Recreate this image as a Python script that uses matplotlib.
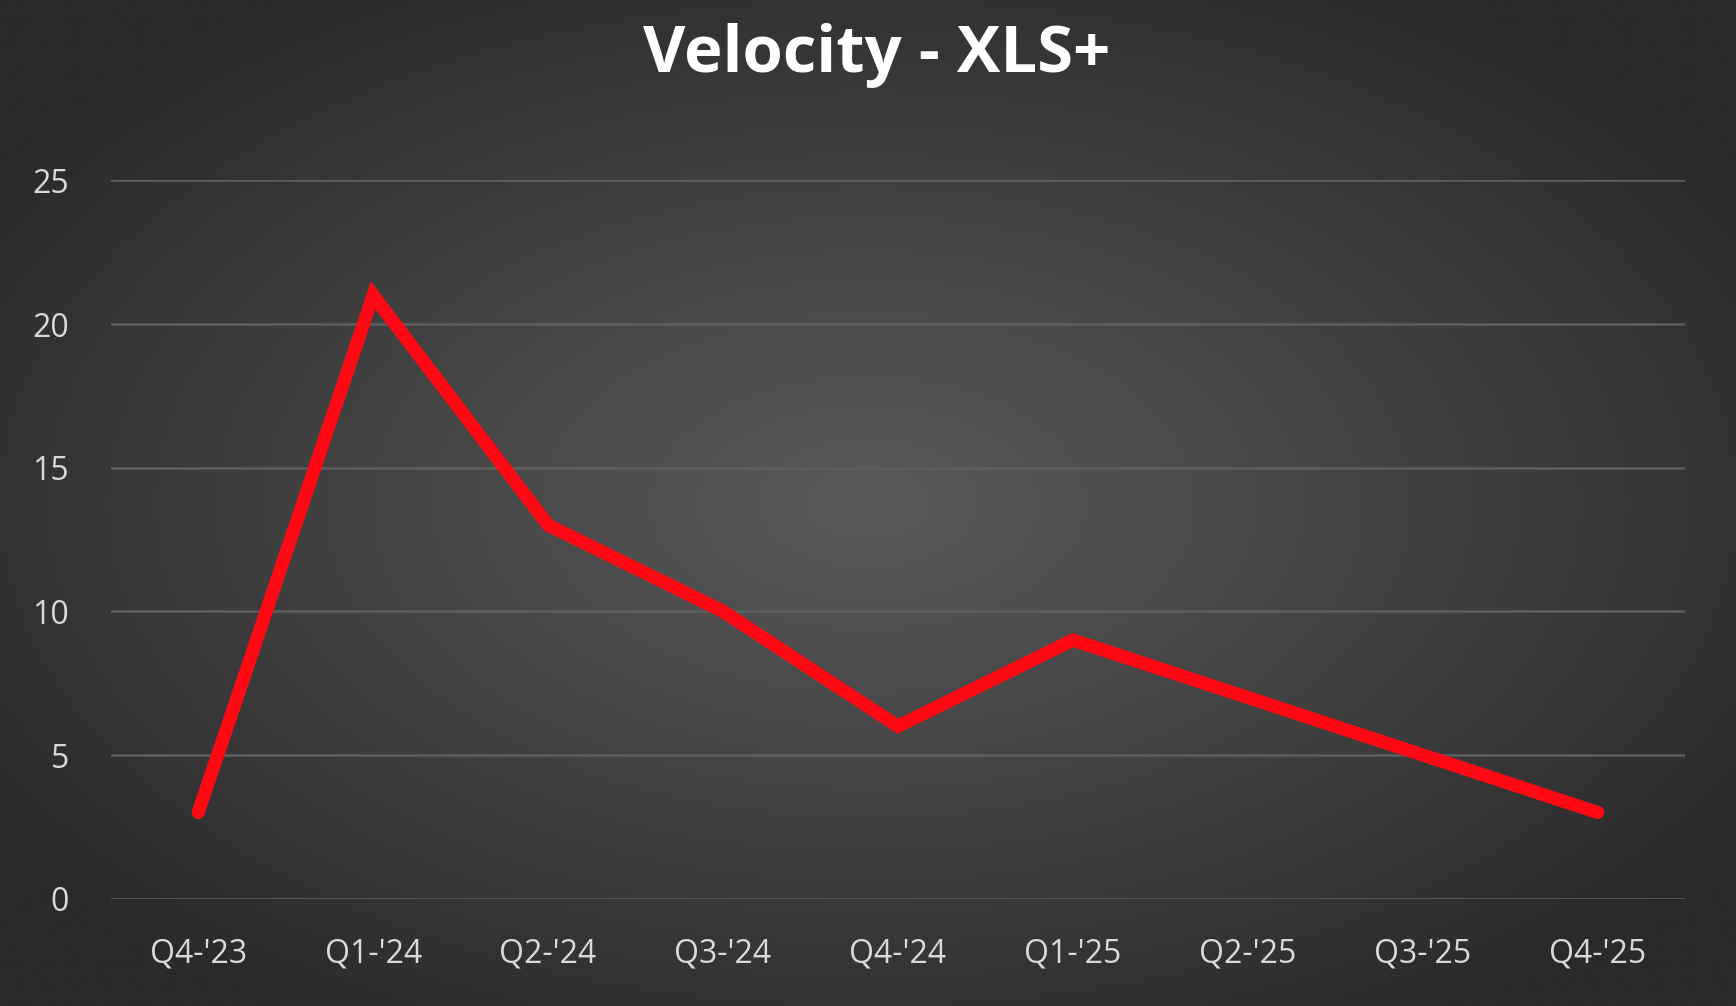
import numpy as np
import matplotlib
matplotlib.use("Agg")
import matplotlib.pyplot as plt

categories = ["Q4-'23", "Q1-'24", "Q2-'24", "Q3-'24", "Q4-'24", "Q1-'25", "Q2-'25", "Q3-'25", "Q4-'25"]
values = [3, 21, 13, 10, 6, 9, 7, 5, 3]
yticks = [0, 5, 10, 15, 20, 25]

plt.rcParams['font.family'] = ['Open Sans', 'DejaVu Sans']
fig = plt.figure(figsize=(17.36, 10.06), dpi=100)

# radial gradient background
bg = fig.add_axes([0, 0, 1, 1], zorder=-10)
yy, xx = np.mgrid[0:1:400j, 0:1:700j]
r = np.sqrt(((xx - 0.5) / 0.6) ** 2 + ((yy - 0.5) / 0.6) ** 2)
r = np.clip(r, 0, 1)
c0, c1 = 0x5a / 255, 0x2a / 255
img = c0 + (c1 - c0) * r
bg.imshow(np.dstack([img, img, img]), aspect='auto', extent=[0, 1, 0, 1])
bg.axis('off')

ax = fig.add_axes([0.0638, 0.1067, 0.9069, 0.714])
ax.patch.set_alpha(0)
x = np.arange(len(categories))
ax.plot(x, values, color='#ff0a14', lw=9.5, solid_capstyle='round', solid_joinstyle='miter', clip_on=False, zorder=3)
ax.set_xlim(-0.5, len(categories) - 0.5)
ax.set_ylim(0, 25)
ax.set_yticks(yticks)
ax.set_xticks(x)
ax.set_xticklabels(categories)
for s in ax.spines.values():
    s.set_visible(False)
ax.grid(axis='y', color='#5f5f5f', lw=1.8)
ax.set_axisbelow(True)
ax.tick_params(length=0, colors='#d9d9d9', labelsize=23)
ax.tick_params(axis='x', pad=28)
ax.tick_params(axis='y', pad=30)
fig.text(0.505, 0.945, "Velocity - XLS+", ha='center', va='center', color='white',
         fontsize=47, fontweight='bold')
fig.savefig("out.png", dpi=100)
